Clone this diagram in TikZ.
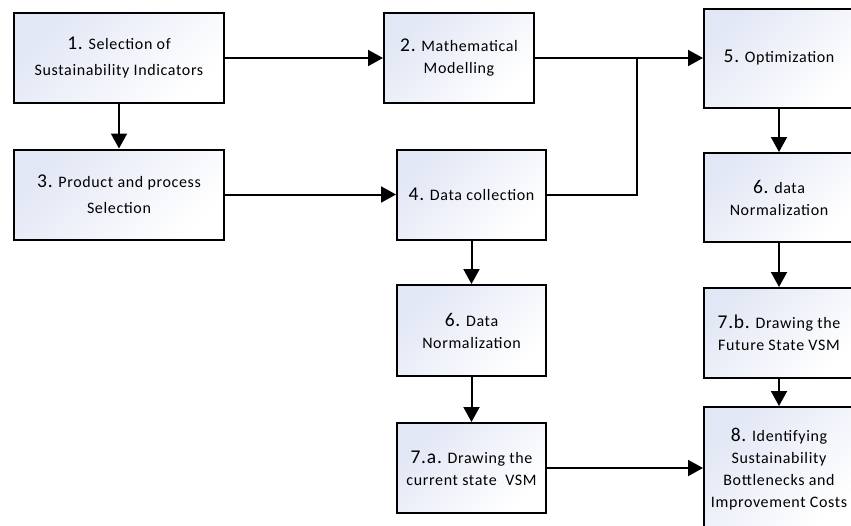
\documentclass[tikz,border=0pt]{standalone}
\usepackage{fontspec}
\setmainfont{Carlito}[LetterSpace=4]
\usetikzlibrary{arrows.meta}
\definecolor{boxtop}{HTML}{E2E7F5}
\tikzset{
  box/.style={draw=black, line width=2pt, anchor=north west, align=center,
    top color=boxtop, bottom color=white, shading angle=45,
    font=\fontsize{16}{22}\selectfont, inner sep=2pt},
  wide/.style={font=\fontsize{16}{26}\selectfont},
  conn/.style={line width=2pt, -{Triangle[length=15pt,width=16pt]}},
  plain/.style={line width=2pt}
}
\newcommand{\nb}[1]{{\fontsize{19.5}{22}\selectfont #1}}
\begin{document}
\begin{tikzpicture}[x=1pt,y=-1pt]
\useasboundingbox (0,0) rectangle (851,525);
\fill[white] (0,0) rectangle (851,525);
\clip (0,0) rectangle (851,525);
\node[box,wide,minimum width=210pt,minimum height=90pt] (b1) at (13,12) {\nb{1.} Selection of\\Sustainability Indicators};
\node[box,minimum width=150pt,minimum height=90pt] (b2) at (383,12) {\nb{2.} Mathematical\\Modelling};
\node[box,wide,minimum width=210pt,minimum height=90pt] (b3) at (13,148.5) {\nb{3.} Product and process\\Selection};
\node[box,minimum width=149pt,minimum height=90pt] (b4) at (396,148.5) {\nb{4.} Data collection};
\node[box,minimum width=150pt,minimum height=99pt] (b5) at (703,7.5) {\nb{5.} Optimization};
\node[box,minimum width=150pt,minimum height=89pt] (b6r) at (703,152) {\nb{6.} data\\Normalization};
\node[box,minimum width=149pt,minimum height=91pt] (b6) at (396,284) {\nb{6.} Data\\Normalization};
\node[box,minimum width=149pt,minimum height=90pt] (b7a) at (396,422) {\nb{7.a.} Drawing the\\current state \ VSM};
\node[box,minimum width=150pt,minimum height=90pt] (b7b) at (703,287) {\nb{7.b.} Drawing the\\Future State VSM};
\node[box,minimum width=150pt,minimum height=125pt] (b8) at (703,406) {\nb{8.} Identifying\\Sustainability\\Bottlenecks and\\Improvement Costs};
\coordinate (j) at (637,57);
\draw[conn] (b1.east) -- (b2.west);
\draw[conn] (b1.south) -- (b3.north);
\draw[conn] (b3.east) -- (b4.west);
\draw[conn] (b2.east) -- (b5.west);
\draw[plain] (b4.east) -| (j);
\draw[conn] (b4.south) -- (b6.north);
\draw[conn] (b6.south) -- (b7a.north);
\draw[conn] (b5.south) -- (b6r.north);
\draw[conn] (b6r.south) -- (b7b.north);
\draw[conn] (b7b.south) -- (b8.north);
\draw[conn] (b7a.east) -- (b7a.east -| b8.west);
\end{tikzpicture}
\end{document}
